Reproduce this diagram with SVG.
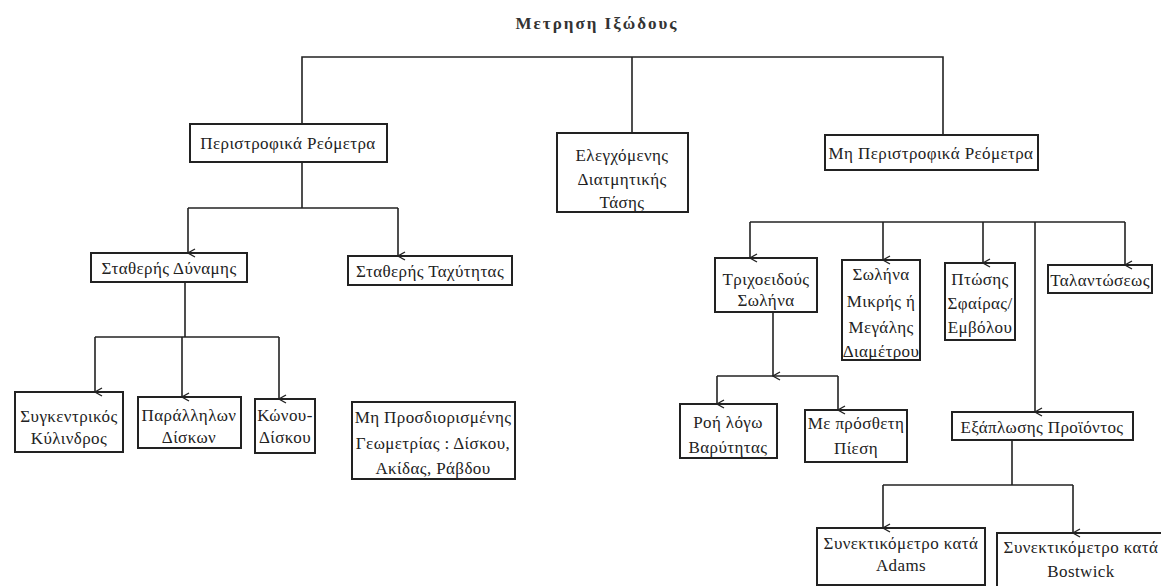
<svg xmlns="http://www.w3.org/2000/svg" width="1161" height="586" viewBox="0 0 1161 586">
<defs>
<marker id="arr" markerWidth="10" markerHeight="10" refX="5" refY="9" orient="auto-start-reverse" markerUnits="userSpaceOnUse" viewBox="0 0 10 10">
<path d="M1,2 L5,9 L9,2" fill="none" stroke="#222" stroke-width="1.3"/>
</marker>
<style>
.box{fill:none;stroke:#222;stroke-width:2}
.t{font-family:"Liberation Serif","DejaVu Serif",serif;font-size:17px;letter-spacing:0.4px;fill:#222;text-anchor:middle;dominant-baseline:central}
.title{font-family:"Liberation Serif","DejaVu Serif",serif;font-size:17px;font-weight:bold;letter-spacing:2px;fill:#333;text-anchor:middle;dominant-baseline:central}
.c{fill:none;stroke:#222;stroke-width:1.6}
.a{fill:none;stroke:#222;stroke-width:1.6;marker-end:url(#arr)}
</style>
</defs>
<rect width="1161" height="586" fill="#fff"/>
<text class="title" x="597" y="23">Μετρηση Ιξώδους</text>

<g id="connectors">
<path class="c" d="M302,124 V57 H943 V135"/>
<path class="c" d="M632,57 V133"/>
<path class="c" d="M302,162 V208"/>
<path class="a" d="M188,208 V253"/>
<path class="a" d="M398,208 V256"/>
<path class="c" d="M188,208 H398"/>
<path class="c" d="M185,282 V337"/>
<path class="c" d="M95,337 H279"/>
<path class="a" d="M95,337 V392"/>
<path class="a" d="M182,337 V397"/>
<path class="a" d="M279,337 V399"/>
<path class="c" d="M750,222 H1125"/>
<path class="a" d="M750,222 V258"/>
<path class="a" d="M883,222 V260"/>
<path class="a" d="M983,222 V263"/>
<path class="a" d="M1125,222 V265"/>
<path class="a" d="M1035,222 V412"/>
<path class="a" d="M773,312 V376"/>
<path class="c" d="M717,376 H838"/>
<path class="a" d="M717,376 V404"/>
<path class="a" d="M838,376 V410"/>
<path class="c" d="M1012,440 V485"/>
<path class="c" d="M883,485 H1073"/>
<path class="a" d="M883,485 V528"/>
<path class="a" d="M1073,485 V533"/>
</g>

<g id="n-peristrofika">
<rect class="box" x="190" y="124" width="197" height="38"/>
<text class="t" x="288" y="143">Περιστροφικά Ρεόμετρα</text>
</g>
<g id="n-elegxomenis">
<rect class="box" x="557" y="133" width="131" height="79"/>
<text class="t" x="622" y="155">Ελεγχόμενης</text>
<text class="t" x="622" y="179">Διατμητικής</text>
<text class="t" x="622" y="202">Τάσης</text>
</g>
<g id="n-mi-peristrofika">
<rect class="box" x="825" y="135" width="213" height="35"/>
<text class="t" x="931" y="153">Μη Περιστροφικά Ρεόμετρα</text>
</g>
<g id="n-statheris-dynamis">
<rect class="box" x="91" y="253" width="156" height="29"/>
<text class="t" x="169" y="268">Σταθερής Δύναμης</text>
</g>
<g id="n-statheris-taxytitas">
<rect class="box" x="348" y="256" width="164" height="29"/>
<text class="t" x="430" y="271">Σταθερής Ταχύτητας</text>
</g>
<g id="n-sygkentrikos">
<rect class="box" x="15" y="392" width="108" height="60"/>
<text class="t" x="69" y="416">Συγκεντρικός</text>
<text class="t" x="69" y="438">Κύλινδρος</text>
</g>
<g id="n-parallilon">
<rect class="box" x="138" y="397" width="103" height="51"/>
<text class="t" x="189" y="415">Παράλληλων</text>
<text class="t" x="189" y="437">Δίσκων</text>
</g>
<g id="n-konou">
<rect class="box" x="255" y="399" width="60" height="54"/>
<text class="t" x="285" y="415">Κώνου-</text>
<text class="t" x="285" y="437">Δίσκου</text>
</g>
<g id="n-mi-prosdiorismenis">
<rect class="box" x="352" y="402" width="163" height="77"/>
<text class="t" x="433" y="417">Μη Προσδιορισμένης</text>
<text class="t" x="433" y="443">Γεωμετρίας : Δίσκου,</text>
<text class="t" x="433" y="468">Ακίδας, Ράβδου</text>
</g>
<g id="n-trixoeidous">
<rect class="box" x="715" y="258" width="102" height="54"/>
<text class="t" x="766" y="279">Τριχοειδούς</text>
<text class="t" x="766" y="300">Σωλήνα</text>
</g>
<g id="n-solina">
<rect class="box" x="842" y="260" width="78" height="100"/>
<text class="t" x="881" y="274">Σωλήνα</text>
<text class="t" x="881" y="301">Μικρής ή</text>
<text class="t" x="881" y="327">Μεγάλης</text>
<text class="t" x="881" y="351">Διαμέτρου</text>
</g>
<g id="n-ptosis">
<rect class="box" x="945" y="263" width="70" height="77"/>
<text class="t" x="980" y="279">Πτώσης</text>
<text class="t" x="980" y="303">Σφαίρας/</text>
<text class="t" x="980" y="327">Εμβόλου</text>
</g>
<g id="n-talantoseos">
<rect class="box" x="1048" y="265" width="104" height="28"/>
<text class="t" x="1100" y="280">Ταλαντώσεως</text>
</g>
<g id="n-roi">
<rect class="box" x="680" y="404" width="97" height="54"/>
<text class="t" x="728" y="422">Ροή λόγω</text>
<text class="t" x="728" y="447">Βαρύτητας</text>
</g>
<g id="n-me-prostheti">
<rect class="box" x="805" y="410" width="102" height="52"/>
<text class="t" x="856" y="423">Με πρόσθετη</text>
<text class="t" x="856" y="448">Πίεση</text>
</g>
<g id="n-exaplosis">
<rect class="box" x="952" y="412" width="181" height="28"/>
<text class="t" x="1042" y="427">Εξάπλωσης Προϊόντος</text>
</g>
<g id="n-adams">
<rect class="box" x="817" y="528" width="168" height="57"/>
<text class="t" x="901" y="543">Συνεκτικόμετρο κατά</text>
<text class="t" x="901" y="565">Adams</text>
</g>
<g id="n-bostwick">
<rect class="box" x="997" y="533" width="180" height="60"/>
<text class="t" x="1081" y="547">Συνεκτικόμετρο κατά</text>
<text class="t" x="1081" y="571">Bostwick</text>
</g>
</svg>
